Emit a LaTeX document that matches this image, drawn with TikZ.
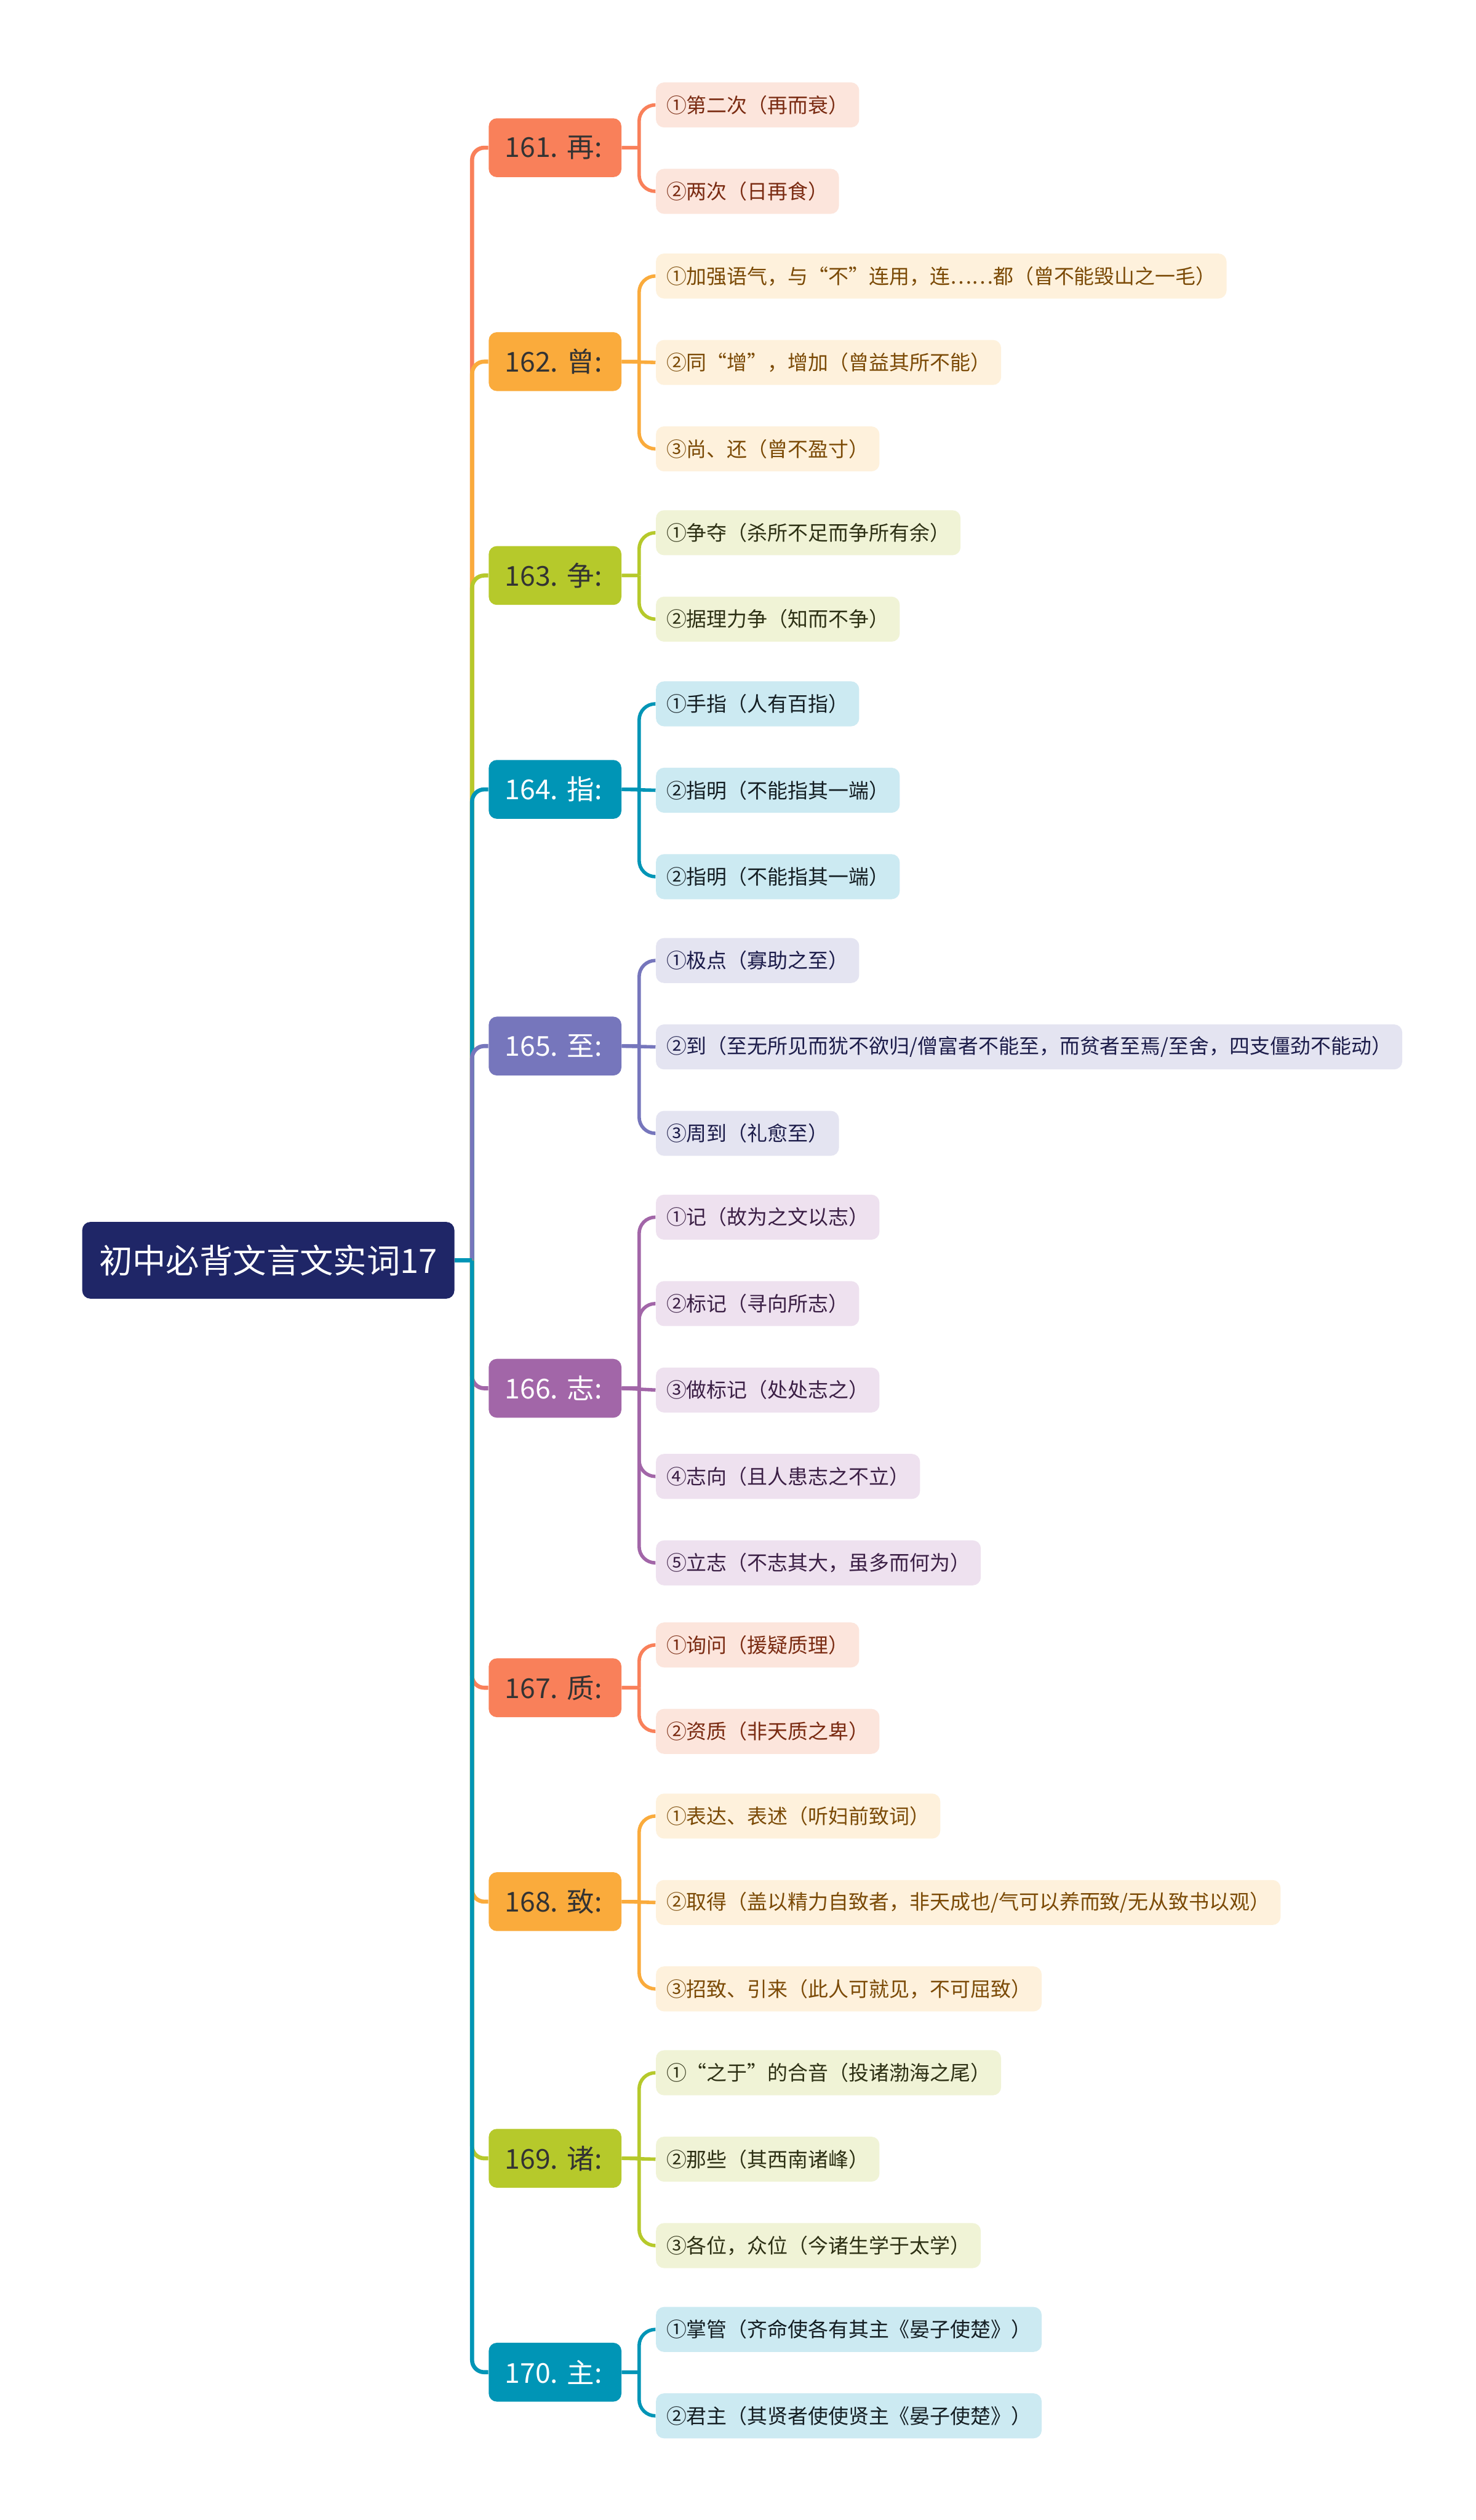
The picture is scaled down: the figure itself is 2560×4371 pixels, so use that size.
\documentclass[tikz,border=0pt]{standalone}
\usepackage{fontspec}
\usetikzlibrary{positioning}
\newfontfamily\cjk{Noto Sans CJK SC}
\frenchspacing

\definecolor{rootblue}{RGB}{31,38,103}
\definecolor{wordred}{RGB}{249,128,90}
\definecolor{wordorange}{RGB}{250,171,60}
\definecolor{wordgreen}{RGB}{182,201,43}
\definecolor{wordteal}{RGB}{0,149,182}
\definecolor{wordblue}{RGB}{118,118,188}
\definecolor{wordpurple}{RGB}{162,102,168}
\definecolor{leafred}{RGB}{252,229,220}
\definecolor{leaforange}{RGB}{254,241,220}
\definecolor{leafgreen}{RGB}{240,243,214}
\definecolor{leafteal}{RGB}{204,234,242}
\definecolor{leafblue}{RGB}{228,228,241}
\definecolor{leafpurple}{RGB}{238,225,239}
\definecolor{inkdark}{RGB}{51,51,51}
\definecolor{inkred}{RGB}{122,43,18}
\definecolor{inkorange}{RGB}{123,74,6}
\definecolor{inkgreen}{RGB}{45,48,20}
\definecolor{inkteal}{RGB}{20,30,35}
\definecolor{inkblue}{RGB}{28,28,74}
\definecolor{inkpurple}{RGB}{59,31,69}

\begin{document}
\begin{tikzpicture}[x=0.01cm, y=-0.01cm, node distance=0.704cm,
                    root node/.style={rounded corners=4pt, anchor=west, fill=rootblue, text=white,
                                      font=\cjk\fontsize{16.5}{20}\selectfont, minimum width=6.45cm, minimum height=1.33cm},
                    word node/.style={rounded corners=4pt, anchor=west, font=\cjk\fontsize{13.5}{16}\selectfont,
                                      text width=1.74cm, align=left, inner xsep=0.28cm, minimum height=1.02cm},
                    leaf node/.style={rounded corners=4pt, anchor=west, font=\cjk\fontsize{10}{12}\selectfont,
                                      inner xsep=0.18cm, minimum height=0.78cm},
                    red word/.style={word node, fill=wordred, text=inkdark},
                    orange word/.style={word node, fill=wordorange, text=inkdark},
                    green word/.style={word node, fill=wordgreen, text=inkdark},
                    teal word/.style={word node, fill=wordteal, text=white},
                    blue word/.style={word node, fill=wordblue, text=white},
                    purple word/.style={word node, fill=wordpurple, text=white},
                    red leaf/.style={leaf node, fill=leafred, text=inkred},
                    orange leaf/.style={leaf node, fill=leaforange, text=inkorange},
                    green leaf/.style={leaf node, fill=leafgreen, text=inkgreen},
                    teal leaf/.style={leaf node, fill=leafteal, text=inkteal},
                    blue leaf/.style={leaf node, fill=leafblue, text=inkblue},
                    purple leaf/.style={leaf node, fill=leafpurple, text=inkpurple},
                    trunk/.style={line width=2pt, rounded corners=6pt,
                                  to path={(\tikztostart.east) -- ++(30,0) (\tikztostart.east) ++(30,0) |- (\tikztotarget.west)}},
                    branch/.style={line width=1.7pt, rounded corners=8pt,
                                   to path={(\tikztostart.east) -- ++(30,0) (\tikztostart.east) ++(30,0) |- (\tikztotarget.west)}},
                    straight/.style={line width=1.7pt, to path={(\tikztostart.east) -- (\tikztotarget.west)}}]

  \useasboundingbox[fill=white] (0,0) rectangle (2560,4371);

  \node[root node] (root) at (142,2186) {初中必背文言文实词17};

  \node[red word] (w161) at (847,256.2) {161. 再:};
  \node[orange word] (w162) at (847,627.2) {162. 曾:};
  \node[green word] (w163) at (847,998.2) {163. 争:};
  \node[teal word] (w164) at (847,1369.2) {164. 指:};
  \node[blue word] (w165) at (847,1814.4) {165. 至:};
  \node[purple word] (w166) at (847,2408) {166. 志:};
  \node[red word] (w167) at (847,2927.4) {167. 质:};
  \node[orange word] (w168) at (847,3298.4) {168. 致:};
  \node[green word] (w169) at (847,3743.6) {169. 诸:};
  \node[teal word] (w170) at (847,4114.6) {170. 主:};

  \node[red leaf] (w161a) at (1137,182) {①第二次（再而衰）};
  \node[red leaf] (w161b) [below=of w161a.south west, anchor=north west] {②两次（日再食）};

  \node[orange leaf] (w162a) at (1137,478.8) {①加强语气，与“不”连用，连……都（曾不能毁山之一毛）};
  \node[orange leaf] (w162b) [below=of w162a.south west, anchor=north west] {②同“增”，增加（曾益其所不能）};
  \node[orange leaf] (w162c) [below=of w162b.south west, anchor=north west] {③尚、还（曾不盈寸）};

  \node[green leaf] (w163a) at (1137,924) {①争夺（杀所不足而争所有余）};
  \node[green leaf] (w163b) [below=of w163a.south west, anchor=north west] {②据理力争（知而不争）};

  \node[teal leaf] (w164a) at (1137,1220.8) {①手指（人有百指）};
  \node[teal leaf] (w164b) [below=of w164a.south west, anchor=north west] {②指明（不能指其一端）};
  \node[teal leaf] (w164c) [below=of w164b.south west, anchor=north west] {②指明（不能指其一端）};

  \node[blue leaf] (w165a) at (1137,1666) {①极点（寡助之至）};
  \node[blue leaf] (w165b) [below=of w165a.south west, anchor=north west] {②到（至无所见而犹不欲归/僧富者不能至，而贫者至焉/至舍，四支僵劲不能动）};
  \node[blue leaf] (w165c) [below=of w165b.south west, anchor=north west] {③周到（礼愈至）};

  \node[purple leaf] (w166a) at (1137,2111.2) {①记（故为之文以志）};
  \node[purple leaf] (w166b) [below=of w166a.south west, anchor=north west] {②标记（寻向所志）};
  \node[purple leaf] (w166c) [below=of w166b.south west, anchor=north west] {③做标记（处处志之）};
  \node[purple leaf] (w166d) [below=of w166c.south west, anchor=north west] {④志向（且人患志之不立）};
  \node[purple leaf] (w166e) [below=of w166d.south west, anchor=north west] {⑤立志（不志其大，虽多而何为）};

  \node[red leaf] (w167a) at (1137,2853.2) {①询问（援疑质理）};
  \node[red leaf] (w167b) [below=of w167a.south west, anchor=north west] {②资质（非天质之卑）};

  \node[orange leaf] (w168a) at (1137,3150) {①表达、表述（听妇前致词）};
  \node[orange leaf] (w168b) [below=of w168a.south west, anchor=north west] {②取得（盖以精力自致者，非天成也/气可以养而致/无从致书以观）};
  \node[orange leaf] (w168c) [below=of w168b.south west, anchor=north west] {③招致、引来（此人可就见，不可屈致）};

  \node[green leaf] (w169a) at (1137,3595.2) {①“之于”的合音（投诸渤海之尾）};
  \node[green leaf] (w169b) [below=of w169a.south west, anchor=north west] {②那些（其西南诸峰）};
  \node[green leaf] (w169c) [below=of w169b.south west, anchor=north west] {③各位，众位（今诸生学于太学）};

  \node[teal leaf] (w170a) at (1137,4040.4) {①掌管（齐命使各有其主《晏子使楚》）};
  \node[teal leaf] (w170b) [below=of w170a.south west, anchor=north west] {②君主（其贤者使使贤主《晏子使楚》）};

  \path
    (root) edge[trunk, wordred] (w161)
           edge[trunk, wordorange] (w162)
           edge[trunk, wordgreen] (w163)
           edge[trunk, wordteal] (w164)
           edge[trunk, wordblue] (w165)
           edge[trunk, wordpurple] (w166)
           edge[trunk, wordred] (w167)
           edge[trunk, wordorange] (w168)
           edge[trunk, wordgreen] (w169)
           edge[trunk, wordteal] (w170)

    (w161) edge[branch, wordred] (w161a)
           edge[branch, wordred] (w161b)
    (w162) edge[branch, wordorange] (w162a)
           edge[straight, wordorange] (w162b)
           edge[branch, wordorange] (w162c)
    (w163) edge[branch, wordgreen] (w163a)
           edge[branch, wordgreen] (w163b)
    (w164) edge[branch, wordteal] (w164a)
           edge[straight, wordteal] (w164b)
           edge[branch, wordteal] (w164c)
    (w165) edge[branch, wordblue] (w165a)
           edge[straight, wordblue] (w165b)
           edge[branch, wordblue] (w165c)
    (w166) edge[branch, wordpurple] (w166a)
           edge[branch, wordpurple] (w166b)
           edge[straight, wordpurple] (w166c)
           edge[branch, wordpurple] (w166d)
           edge[branch, wordpurple] (w166e)
    (w167) edge[branch, wordred] (w167a)
           edge[branch, wordred] (w167b)
    (w168) edge[branch, wordorange] (w168a)
           edge[straight, wordorange] (w168b)
           edge[branch, wordorange] (w168c)
    (w169) edge[branch, wordgreen] (w169a)
           edge[straight, wordgreen] (w169b)
           edge[branch, wordgreen] (w169c)
    (w170) edge[branch, wordteal] (w170a)
           edge[branch, wordteal] (w170b);

\end{tikzpicture}
\end{document}
